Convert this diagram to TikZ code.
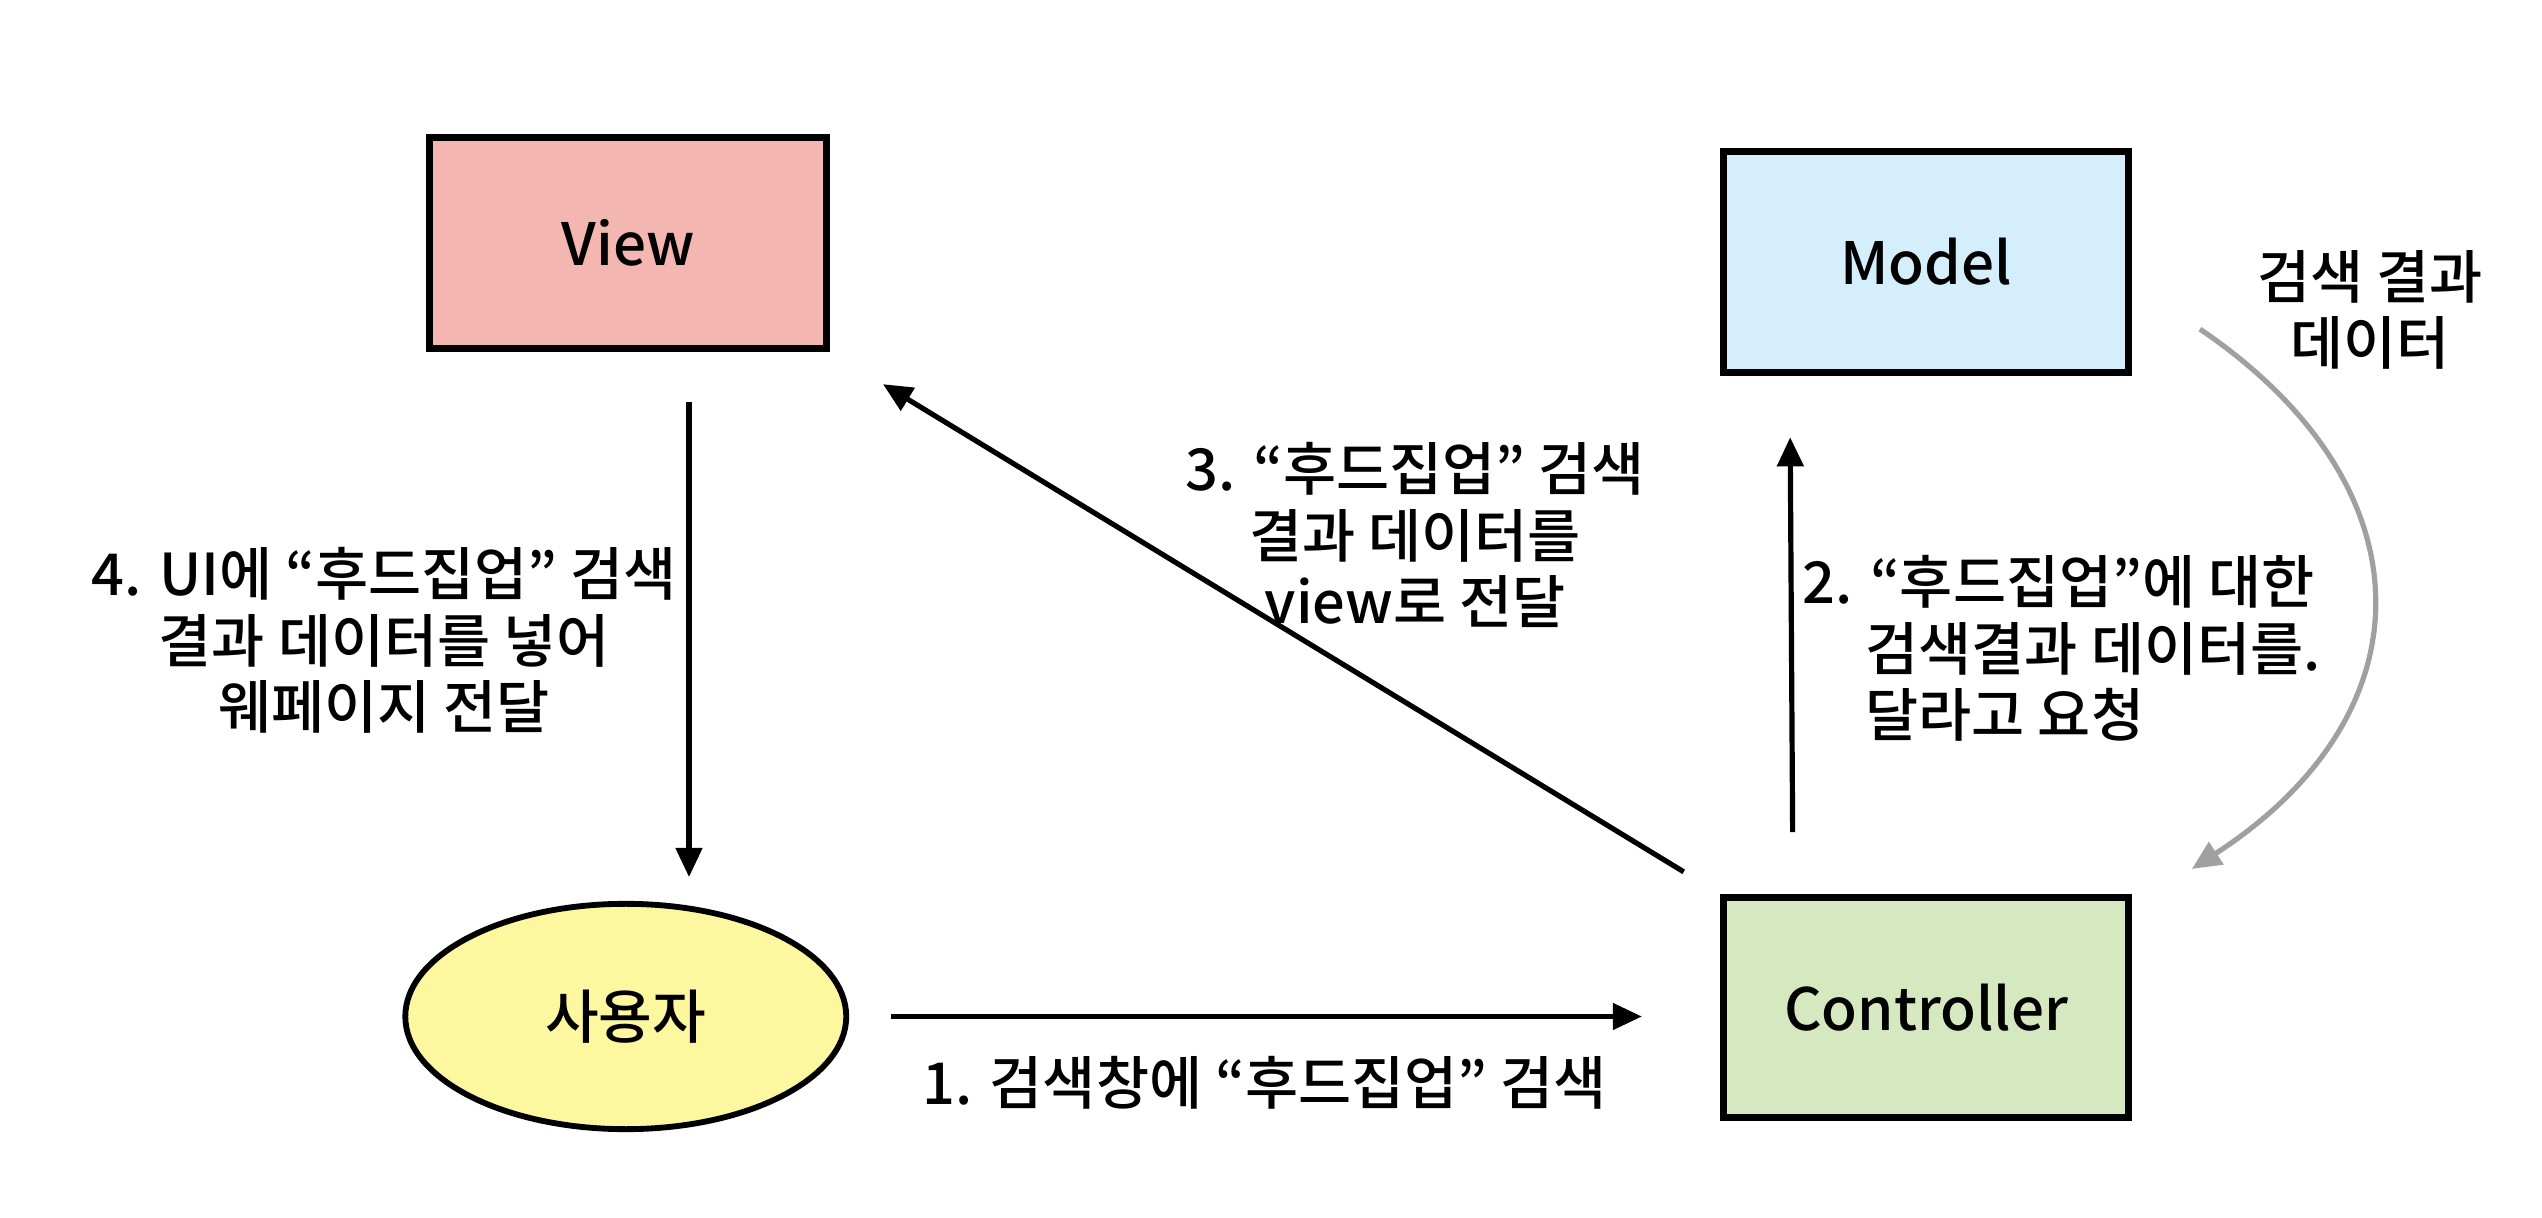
\documentclass[tikz,border=0pt]{standalone}
\usepackage{fontspec}
\setmainfont{Noto Sans CJK KR}
\newfontfamily\medfont{Noto Sans CJK KR Medium}
\usepackage{tikz}
\usetikzlibrary{arrows.meta,shapes.geometric}

\definecolor{viewpink}{RGB}{244,182,176}
\definecolor{modelblue}{RGB}{212,238,251}
\definecolor{ctrlgreen}{RGB}{213,232,192}
\definecolor{useryellow}{RGB}{253,247,160}
\definecolor{resgray}{RGB}{160,160,160}

\tikzset{
  mvcbox/.style={draw,line width=2.2pt,minimum width=125pt,minimum height=68pt,font=\fontsize{18}{20}\selectfont\medfont,inner sep=0pt},
  flowarr/.style={line width=1.6pt,-{Triangle[length=9pt,width=8pt]}},
  steptext/.style={font=\fontsize{17.8}{20.5}\selectfont\medfont,inner sep=0.75pt}
}

\begin{document}
\begin{tikzpicture}[x=0.5pt,y=0.5pt,yscale=-1]
	\useasboundingbox (0,0) rectangle (1568,751);
	
	%Shape: Rectangle [View]
	\node (view) [mvcbox,fill=viewpink,minimum width=122.5pt,minimum height=65pt] at (387.5,150) {View};
	%Shape: Rectangle [Model]
	\node (model) [mvcbox,fill=modelblue] at (1188,161.5) {Model};
	%Shape: Rectangle [Controller]
	\node (ctrl) [mvcbox,fill=ctrlgreen] at (1188,621.5) {Controller};
	%Shape: Ellipse [User]
	\node (user) [draw,ellipse,line width=1.8pt,fill=useryellow,minimum width=136pt,minimum height=69.5pt,font=\fontsize{18}{20}\selectfont\medfont] at (386,627) {사용자};
	
	%Flow arrows
	\draw [flowarr,shorten <=13pt,shorten >=24pt] (user.east) -- (user.east -| ctrl.west);
	\coordinate (down-top) at (425,248);
	\coordinate (down-end) at (425,541);
	\draw [flowarr] (down-top) -- (down-end);
	\draw [flowarr,shorten <=13pt,shorten >=19pt] (ctrl.north west) -- (view.south east);
	\draw [flowarr,shorten <=19pt,shorten >=19pt] ([xshift=-41pt]ctrl.north) -- ([xshift=-42pt]model.south);
	%Result curve
	\coordinate (res-start) at (1357,203);
	\coordinate (res-end) at (1352,536);
	\draw [line width=1.6pt,color=resgray,-{Triangle[length=9pt,width=8pt]}] (res-start) .. controls (1500,300) and (1500,440) .. (res-end);
	
	% Text Node
	\node (lab1) [steptext] at (780,668) {1. 검색창에 “후드집업” 검색};
	% Text Node
	\node (lab2) [steptext,anchor=west,align=left] at (1110,400) {2. “후드집업”에 대한\\\hphantom{2.\ }검색결과 데이터를.\\\hphantom{2.\ }달라고 요청};
	% Text Node
	\node (lab3) [steptext,align=center] at (873,330) {3. “후드집업” 검색\\결과 데이터를\\view로 전달};
	% Text Node
	\node (lab4) [steptext,align=center] at (237,395) {4. UI에 “후드집업” 검색\\결과 데이터를 넣어\\웨페이지 전달};
	% Text Node
	\node (labres) [steptext,align=center] at (1462,191) {검색 결과\\데이터};
\end{tikzpicture}
\end{document}
